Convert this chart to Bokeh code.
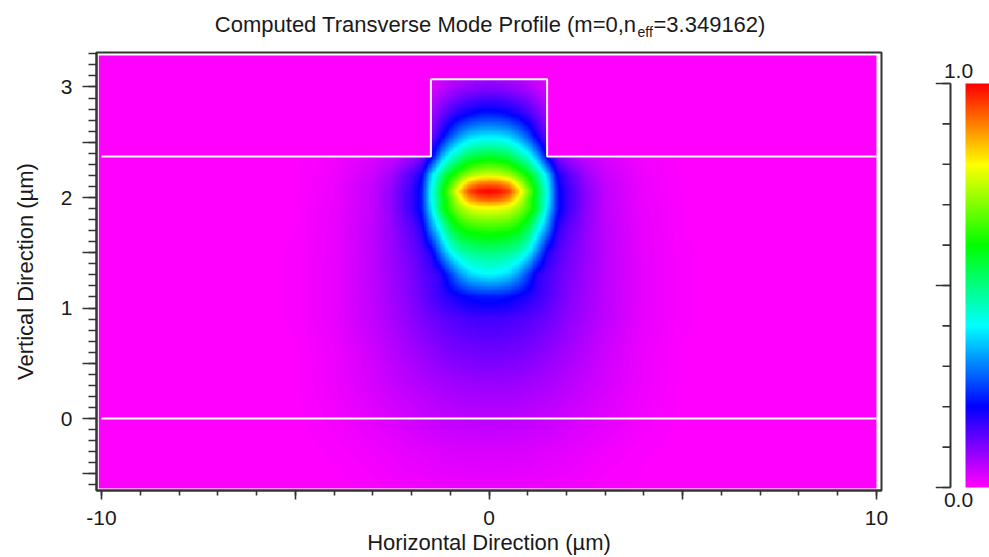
import colorsys
import numpy as np
from bokeh.plotting import figure
from bokeh.models import Range1d, LinearColorMapper, FixedTicker
from bokeh.layouts import row, column
from bokeh.core.properties import value
from bokeh.embed import file_html
from bokeh.resources import INLINE

# ---------------- data ----------------
# |x| sample positions (um) and y sample positions (um) of the mode intensity
grid_x = [0, 0.25, 0.5, 0.75, 1.0, 1.25, 1.5, 1.75, 2.0, 2.5, 3.0, 4.0, 5.0, 6.5, 10.1]
grid_y = [-0.65, -0.3, 0.0, 0.3, 0.6, 0.9, 1.1, 1.3, 1.5, 1.7, 1.9, 1.97, 2.05,
          2.12, 2.2, 2.37, 2.55, 2.75, 2.95, 3.07, 3.3]
# normalized intensity, one row per grid_y value, one column per grid_x value
field = [
    [0.015, 0.015, 0.015, 0.014, 0.014, 0.013, 0.012, 0.011, 0.010, 0.008, 0.005, 0.002, 0.0, 0, 0],
    [0.032, 0.032, 0.031, 0.031, 0.030, 0.028, 0.026, 0.024, 0.022, 0.017, 0.012, 0.005, 0.001, 0, 0],
    [0.055, 0.055, 0.054, 0.053, 0.051, 0.049, 0.046, 0.043, 0.039, 0.031, 0.023, 0.010, 0.002, 0, 0],
    [0.080, 0.080, 0.079, 0.077, 0.074, 0.070, 0.066, 0.061, 0.056, 0.045, 0.034, 0.014, 0.003, 0, 0],
    [0.115, 0.114, 0.112, 0.109, 0.104, 0.097, 0.090, 0.082, 0.073, 0.056, 0.040, 0.015, 0.003, 0, 0],
    [0.150, 0.149, 0.146, 0.141, 0.134, 0.125, 0.115, 0.104, 0.092, 0.070, 0.050, 0.020, 0.005, 0, 0],
    [0.220, 0.218, 0.210, 0.195, 0.178, 0.158, 0.138, 0.118, 0.100, 0.075, 0.052, 0.020, 0.005, 0, 0],
    [0.400, 0.390, 0.370, 0.320, 0.250, 0.170, 0.145, 0.125, 0.105, 0.078, 0.053, 0.020, 0.005, 0, 0],
    [0.500, 0.497, 0.485, 0.460, 0.400, 0.300, 0.180, 0.140, 0.115, 0.082, 0.053, 0.019, 0.005, 0, 0],
    [0.630, 0.625, 0.615, 0.590, 0.530, 0.410, 0.300, 0.170, 0.130, 0.085, 0.052, 0.018, 0.004, 0, 0],
    [0.790, 0.785, 0.770, 0.720, 0.650, 0.550, 0.380, 0.220, 0.160, 0.090, 0.050, 0.017, 0.004, 0, 0],
    [0.920, 0.910, 0.870, 0.780, 0.660, 0.540, 0.400, 0.220, 0.160, 0.090, 0.050, 0.016, 0.004, 0, 0],
    [1.000, 0.990, 0.950, 0.840, 0.700, 0.560, 0.400, 0.220, 0.160, 0.090, 0.050, 0.015, 0.003, 0, 0],
    [0.920, 0.910, 0.870, 0.770, 0.650, 0.530, 0.390, 0.210, 0.150, 0.085, 0.048, 0.015, 0.003, 0, 0],
    [0.760, 0.750, 0.720, 0.660, 0.590, 0.490, 0.360, 0.190, 0.140, 0.075, 0.042, 0.013, 0.003, 0, 0],
    [0.560, 0.550, 0.530, 0.480, 0.420, 0.320, 0.180, 0.100, 0.070, 0.045, 0.030, 0.010, 0.002, 0, 0],
    [0.380, 0.375, 0.360, 0.320, 0.260, 0.180, 0.110, 0, 0, 0, 0, 0, 0, 0, 0],
    [0.220, 0.215, 0.200, 0.180, 0.150, 0.110, 0.070, 0, 0, 0, 0, 0, 0, 0, 0],
    [0.110, 0.108, 0.100, 0.090, 0.075, 0.055, 0.035, 0, 0, 0, 0, 0, 0, 0, 0],
    [0.070, 0.068, 0.064, 0.056, 0.045, 0.032, 0.020, 0, 0, 0, 0, 0, 0, 0, 0],
    [0, 0, 0, 0, 0, 0, 0, 0, 0, 0, 0, 0, 0, 0, 0],
]

# waveguide outline (um)
slab_x = [-10, -1.5, -1.5, 1.5, 1.5, 10]
slab_y = [2.37, 2.37, 3.07, 3.07, 2.37, 2.37]
sub_x = [-10, 10]
sub_y = [0, 0]
rib_half_width = 1.5
slab_top = 2.37
rib_top = 3.07

# axes
x_ticks = [-10, -5, 0, 5, 10]
x_minor = list(range(-10, 11))
x_labels = {-10: "-10", -5: "", 0: "0", 5: "", 10: "10"}
y_ticks = [-0.5, 0, 0.5, 1, 1.5, 2, 2.5, 3]
y_minor = [round(0.1 * k, 1) for k in range(-6, 34)]
y_labels = {-0.5: "", 0: "0", 0.5: "", 1: "1", 1.5: "", 2: "2", 2.5: "", 3: "3"}
cb_ticks = [0, 0.5, 1]
cb_minor = [round(0.1 * k, 1) for k in range(0, 11)]
cb_top_label = "1.0"
cb_bottom_label = "0.0"

title_main = "Computed Transverse Mode Profile (m=0,n"
title_sub = "eff"
title_end = "=3.349162)"
x_title = "Horizontal Direction (\u00b5m)"
y_title = "Vertical Direction (\u00b5m)"

FONT = "Liberation Sans"
INK = "#1a1a1a"
FRAME = "#333333"

# ---------------- field image ----------------
NX, NY = 600, 330
x0, x1, y0, y1 = -10.07, 10.0, -0.632, 3.285
xc = x0 + (np.arange(NX) + 0.5) * (x1 - x0) / NX
yc = y0 + (np.arange(NY) + 0.5) * (y1 - y0) / NY
F = np.array(field, dtype=float)
Fx = np.array([np.interp(np.abs(xc), grid_x, r) for r in F])
Z = np.empty((NY, NX))
for j in range(NX):
    Z[:, j] = np.interp(yc, grid_y, Fx[:, j])
XX, YY = np.meshgrid(xc, yc)
air = ((YY > slab_top) & (np.abs(XX) > rib_half_width)) | (YY > rib_top)
Z[air] = 0.0

palette = []
for t in np.linspace(0, 1, 256):
    r, g, b = colorsys.hsv_to_rgb(300.0 * (1 - t) / 360.0, 1, 1)
    palette.append("#%02x%02x%02x" % (int(round(r * 255)), int(round(g * 255)), int(round(b * 255))))
mapper = LinearColorMapper(palette=palette, low=0, high=1)

XR = (-10.13, 10.13)


def px_x(px):
    return (px - 488.5) / 38.75


# ---------------- title strip ----------------
tf = figure(width=989, height=48, x_range=Range1d(*XR), y_range=Range1d(48, 0),
            x_axis_type=None, y_axis_type=None, output_backend="svg", toolbar_location=None,
            min_border_left=96, min_border_right=108, min_border_top=0, min_border_bottom=0)
tf.outline_line_color = None
tf.grid.visible = False
tf.text(x=[px_x(636)], y=[24], text=[title_main], text_align="right", text_baseline="alphabetic",
        text_font=value(FONT), text_font_size=value("22px"), text_color=INK)
tf.text(x=[px_x(637)], y=[31], text=[title_sub], text_align="left", text_baseline="alphabetic",
        text_font=value(FONT), text_font_size=value("14px"), text_color=INK)
tf.text(x=[px_x(653)], y=[24], text=[title_end], text_align="left", text_baseline="alphabetic",
        text_font=value(FONT), text_font_size=value("22px"), text_color=INK)

# ---------------- main figure ----------------
p = figure(width=935, height=509, x_range=Range1d(*XR), y_range=Range1d(-0.651, 3.312),
           output_backend="svg", toolbar_location=None,
           min_border_left=96, min_border_right=54, min_border_top=4, min_border_bottom=67)
p.grid.visible = False
p.outline_line_color = FRAME
p.outline_line_width = 2
p.image(image=[Z], x=x0, y=y0, dw=x1 - x0, dh=y1 - y0, color_mapper=mapper)
p.line(slab_x, slab_y, line_color="white", line_width=2)
p.line(sub_x, sub_y, line_color="white", line_width=2)

for ax in (p.xaxis[0], p.yaxis[0]):
    ax.axis_line_color = FRAME
    ax.axis_line_width = 2
    ax.major_tick_line_color = FRAME
    ax.minor_tick_line_color = FRAME
    ax.major_tick_line_width = 1.6
    ax.minor_tick_line_width = 1.6
    ax.major_tick_in = 0
    ax.minor_tick_in = 0
    ax.major_label_text_font = FONT
    ax.major_label_text_font_size = "21px"
    ax.major_label_text_color = INK
    ax.axis_label_text_font = FONT
    ax.axis_label_text_font_size = "22px"
    ax.axis_label_text_font_style = "normal"
    ax.axis_label_text_color = INK

p.xaxis.ticker = FixedTicker(ticks=x_ticks, minor_ticks=x_minor)
p.xaxis.major_label_overrides = x_labels
p.xaxis.major_tick_out = 9
p.xaxis.minor_tick_out = 5
p.xaxis.major_label_standoff = 11
p.xaxis.major_label_text_line_height = 0.85
p.xaxis.axis_label = x_title
p.xaxis.axis_label_text_line_height = 0.85
p.xaxis.axis_label_standoff = 2

p.yaxis.ticker = FixedTicker(ticks=y_ticks, minor_ticks=y_minor)
p.yaxis.major_label_overrides = y_labels
p.yaxis.major_tick_out = 14
p.yaxis.minor_tick_out = 8
p.yaxis.major_label_standoff = 10
p.yaxis.axis_label = y_title
p.yaxis.axis_label_standoff = 20

# ---------------- colour bar ----------------
# frame spans page x 935..989, y 52..490; strip: value 0 at y=487, 1 at y=83
CB_SCALE = 404.0
strip = np.linspace(0, 1, 256).reshape(256, 1)
cb = figure(width=54, height=509, x_range=Range1d(0, 54),
            y_range=Range1d(-3 / CB_SCALE, 1 + 31 / CB_SCALE), y_axis_type=None,
            output_backend="svg", toolbar_location=None,
            min_border_left=0, min_border_right=0, min_border_top=4, min_border_bottom=67)
cb.grid.visible = False
cb.outline_line_color = None
cb.image(image=[strip], x=30, y=0, dw=24, dh=1, color_mapper=mapper)
axis_x = 15
cb.segment(x0=[axis_x], y0=[0], x1=[axis_x], y1=[1], line_color=FRAME, line_width=2)
cb.segment(x0=[axis_x - 8] * len(cb_minor), y0=cb_minor, x1=[axis_x] * len(cb_minor), y1=cb_minor,
           line_color=FRAME, line_width=1.6)
cb.segment(x0=[axis_x - 15] * len(cb_ticks), y0=cb_ticks, x1=[axis_x] * len(cb_ticks), y1=cb_ticks,
           line_color=FRAME, line_width=1.6)
cb.text(x=[23], y=[1 + 13 / CB_SCALE], text=[cb_top_label], text_align="center", text_baseline="middle",
        text_font=value(FONT), text_font_size=value("21px"), text_color=INK)
cbx = cb.xaxis[0]
cbx.ticker = FixedTicker(ticks=[23], minor_ticks=[])
cbx.major_label_overrides = {23: cb_bottom_label}
cbx.axis_line_color = None
cbx.major_tick_line_color = None
cbx.minor_tick_line_color = None
cbx.major_tick_out = 0
cbx.major_tick_in = 0
cbx.major_label_standoff = 2
cbx.major_label_text_font = FONT
cbx.major_label_text_font_size = "21px"
cbx.major_label_text_color = INK

layout = column(tf, row(p, cb))
open("out.html", "w").write(file_html(layout, INLINE))
